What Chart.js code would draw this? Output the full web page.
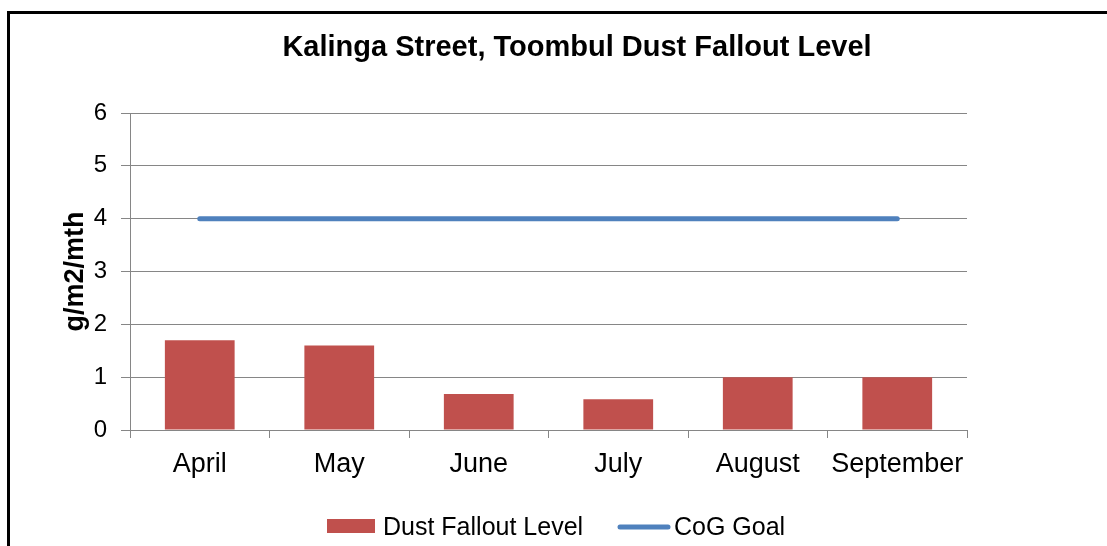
<!DOCTYPE html>
<html>
<head>
<meta charset="utf-8">
<script src="https://cdn.jsdelivr.net/npm/chart.js@4.4.1/dist/chart.umd.min.js"></script>
<style>
  html, body { margin: 0; padding: 0; background: #fff; }
  #wrap { position: relative; width: 1107px; height: 546px; overflow: hidden; }
  #frame { position: absolute; left: 7px; top: 11px; width: 1200px; height: 600px;
           border-top: 3px solid #000; border-left: 3px solid #000; box-sizing: border-box; }
  canvas { position: absolute; left: 0; top: 0; }
</style>
</head>
<body>
<div id="wrap">
  <div id="frame"></div>
  <canvas id="c" width="1107" height="546"></canvas>
</div>
<script>
const chartTitle = "Kalinga Street, Toombul Dust Fallout Level";
const categories = ["April", "May", "June", "July", "August", "September"];
const dustFallout = [1.7, 1.6, 0.68, 0.58, 1.0, 1.0];
const cogGoal = [4, 4, 4, 4, 4, 4];
const yTicks = [0, 1, 2, 3, 4, 5, 6];
const yAxisTitle = "g/m2/mth";
const seriesNames = ["Dust Fallout Level", "CoG Goal"];

const FONT = "'Liberation Sans', Arial, sans-serif";
const RED = "#C0504D";
const BLUE = "#4F81BD";
const GRID = "#868686";

Chart.defaults.font.family = FONT;
Chart.defaults.color = "#000";

const overlay = {
  id: "overlay",
  afterDraw(chart) {
    const ctx = chart.ctx;
    ctx.save();
    // title
    ctx.fillStyle = "#000";
    ctx.font = "bold 29px " + FONT;
    ctx.textAlign = "center";
    ctx.textBaseline = "alphabetic";
    ctx.fillText(chartTitle, 577, 56);
    // legend
    ctx.fillStyle = RED;
    ctx.fillRect(327, 519, 48, 14);
    ctx.fillStyle = "#000";
    ctx.font = "25px " + FONT;
    ctx.textAlign = "left";
    ctx.fillText(seriesNames[0], 383, 535);
    ctx.strokeStyle = BLUE;
    ctx.lineWidth = 5;
    ctx.lineCap = "round";
    ctx.beginPath();
    ctx.moveTo(620, 527);
    ctx.lineTo(668, 527);
    ctx.stroke();
    ctx.fillText(seriesNames[1], 674, 535);
    ctx.restore();
  }
};

new Chart(document.getElementById("c"), {
  data: {
    labels: categories,
    datasets: [
      {
        type: "line",
        label: seriesNames[1],
        data: cogGoal,
        borderColor: BLUE,
        backgroundColor: BLUE,
        borderWidth: 5,
        borderCapStyle: "round",
        pointRadius: 0,
        fill: false,
        order: 0
      },
      {
        type: "bar",
        label: seriesNames[0],
        data: dustFallout,
        backgroundColor: RED,
        borderWidth: 0,
        categoryPercentage: 0.5,
        barPercentage: 1.0,
        order: 1
      }
    ]
  },
  options: {
    responsive: false,
    animation: false,
    devicePixelRatio: 1,
    layout: { padding: { top: 113, left: 0, right: 140, bottom: 66 } },
    plugins: {
      legend: { display: false },
      title: { display: false },
      tooltip: { enabled: false }
    },
    scales: {
      x: {
        offset: true,
        grid: { offset: true, drawOnChartArea: false, color: GRID, tickLength: 8, lineWidth: 1 },
        border: { display: true, color: GRID, width: 1 },
        ticks: { font: { size: 27 }, color: "#000", padding: 10, maxRotation: 0, autoSkip: false },
        afterFit(scale) { scale.height = 50; }
      },
      y: {
        min: 0,
        max: 6,
        afterBuildTicks(scale) { scale.ticks = yTicks.map(v => ({ value: v })); },
        grid: { color: GRID, tickLength: 9, lineWidth: 1 },
        border: { display: true, color: GRID, width: 1 },
        ticks: { font: { size: 24 }, color: "#000", padding: 14 },
        title: {
          display: true,
          text: yAxisTitle,
          font: { size: 27, weight: "bold" },
          color: "#000",
          padding: { top: 59, bottom: 0 }
        },
        afterFit(scale) { scale.width = 130; }
      }
    }
  },
  plugins: [overlay]
});
</script>
</body>
</html>
